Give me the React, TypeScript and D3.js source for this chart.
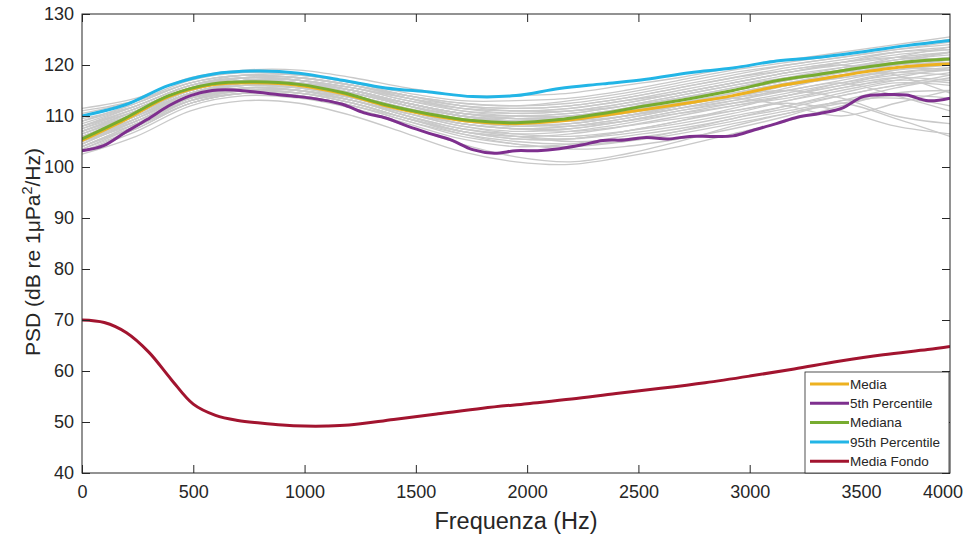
import { useEffect, useRef } from 'react'
import * as d3 from 'd3'

// frequency grids (Hz) the spectra were sampled on
const freqMain = d3.range(0, 3901, 195)
const freqFine = d3.range(0, 3901, 97.5)
const freqGray = d3.range(0, 3901, 243.75)
const freqFondo = [0, 100, 200, 300, 400, 500, 600, 700, 800, 900, 1000, 1100, 1200, 1400, 1600, 1800, 2000, 2200, 2400, 2600, 2800, 3000, 3200, 3400, 3600, 3800, 3900]

const media = [105.2, 109.3, 113.8, 116.1, 116.5, 116, 114.4, 112, 110.2, 108.9, 108.5, 109, 110.1, 111.3, 112.6, 114, 115.8, 117.2, 118.6, 119.7, 120.2]
const mediana = [105.5, 109.6, 114, 116.3, 116.7, 116.2, 114.6, 112.2, 110.4, 109.1, 108.7, 109.3, 110.5, 112, 113.4, 115, 116.9, 118.2, 119.5, 120.6, 121.2]
const p95 = [110, 112.2, 116, 118.2, 118.8, 118.4, 117, 115.5, 114.7, 113.8, 114, 115.4, 116.3, 117.2, 118.5, 119.4, 120.8, 121.5, 122.6, 123.8, 124.8]
const p5 = [
  103.2, 104.2, 106.8, 109.3, 112, 114, 115, 115.1, 114.7, 114.2, 113.8, 113.2, 112.3, 110.6, 109.6, 108, 106.6, 105.3, 103.4, 102.7,
  103.2, 103.2, 103.6, 104.3, 105.2, 105.3, 105.8, 105.5, 106, 106, 106.1, 107.3, 108.5, 109.8, 110.5, 111.5, 113.8, 114.2, 114.1, 113, 113.5,
]
const mediaFondo = [70, 69.5, 67.5, 63.7, 58.4, 53.5, 51.3, 50.3, 49.8, 49.4, 49.2, 49.2, 49.4, 50.5, 51.6, 52.7, 53.6, 54.5, 55.6, 56.6, 57.7, 59, 60.4, 61.9, 63.2, 64.2, 64.8]

// single recordings (grey)
const singles = [
  [107, 111, 115.5, 117.5, 117, 115.5, 113, 111.5, 111, 111.5, 113, 115, 117, 119, 120.5, 122, 123],
  [104, 108.5, 113.5, 115.5, 115, 113, 110, 107.5, 106.5, 107, 108.5, 110.5, 112.5, 114.5, 116.5, 118, 119],
  [109, 112.5, 116.5, 118, 117.5, 116, 114, 112.5, 112, 113, 114.5, 116.5, 118.5, 120, 121.5, 123, 124],
  [106, 110, 114.5, 116, 115.5, 113.5, 111, 108.5, 107.5, 108, 109.5, 111.5, 113.5, 116, 118, 119.5, 120],
  [103, 107, 112, 114, 113.5, 111.5, 108.5, 105.5, 104, 104.5, 106, 107.5, 109.5, 112, 114, 116, 117],
  [108, 111.5, 115.5, 117, 116.5, 115, 112.5, 110.5, 109.5, 110, 111.5, 113.5, 115.5, 117.5, 119.5, 121, 122],
  [105, 109.5, 114, 116.5, 116.5, 115, 112, 109.5, 109, 109.5, 111, 113, 115, 117, 118.5, 119.5, 119],
  [110.5, 113, 117, 118.5, 118, 116.5, 114.5, 113, 113, 113.5, 115, 117, 119, 120.5, 122, 123.5, 125],
  [102.5, 106, 111, 113, 112.5, 110, 106.5, 103, 101, 100.5, 102, 104, 106.5, 109, 112, 114.5, 115],
  [106.5, 110.5, 115, 117, 116.5, 114.5, 112, 110, 109, 109, 110.5, 112.5, 114.5, 116.5, 118, 119.5, 121],
  [104.5, 109, 113.5, 115.5, 115.5, 114, 111.5, 109, 108, 108.5, 110, 112, 114, 116, 117.5, 118.5, 118],
  [107.5, 111, 115.5, 117.5, 117.5, 116, 113.5, 111, 110, 110, 111, 112.5, 114.5, 116.5, 118.5, 120.5, 122.5],
  [105, 109, 113.5, 115, 114.5, 112.5, 109.5, 107, 105.5, 105.5, 107, 109, 111, 113, 115, 117, 118.5],
  [109.5, 112, 116, 117.5, 117, 115.5, 113.5, 111.5, 110.5, 111, 112.5, 114.5, 116.5, 118.5, 120, 121.5, 122.5],
  [103.5, 108, 113, 115.5, 115, 113, 110, 107, 106, 106.5, 108, 110, 112, 113.5, 115.5, 117.5, 119.5],
  [106, 110, 114.5, 116.5, 116, 114, 111, 108.5, 107.5, 107.5, 109, 111, 113, 115.5, 118, 120, 121],
  [108.5, 112, 116, 117.5, 117, 115, 112.5, 110.5, 110, 110.5, 112, 114, 116, 118, 119.5, 120.5, 121.5],
  [104, 108, 112.5, 114.5, 114, 112, 109.5, 107, 106, 105.5, 106.5, 108, 110, 112, 114.5, 116.5, 116],
  [107, 111, 115, 117, 116.5, 114.5, 112, 110, 109.5, 110, 111.5, 113.5, 115.5, 117.5, 119, 120.5, 121.5],
  [105.5, 109.5, 114, 116, 116, 114.5, 112, 110, 109, 109, 110, 111.5, 113, 115, 117, 119, 120.5],
  [111, 113, 116.5, 118, 117.5, 116, 114, 112.5, 112, 112.5, 114, 116, 118, 120, 121.5, 123, 124.5],
  [106, 110, 114, 115.5, 115, 113, 110, 107.5, 106, 105, 105.5, 107, 109, 111, 112.5, 109.5, 106],
  [104, 108.5, 113, 115, 115, 113.5, 111, 108.5, 107.5, 108, 109.5, 111.5, 113.5, 115, 116.5, 114, 111],
  [107, 110.5, 115, 117, 117, 115.5, 113, 111, 110.5, 111, 112.5, 114.5, 116.5, 118.5, 120, 118, 114.5],
  [105.5, 109, 113, 114.5, 114, 111.5, 108, 104.5, 102, 101, 102.5, 105, 108, 110.5, 113, 115.5, 117.5],
  [108, 111.5, 115.5, 117.5, 117.5, 116, 113.5, 111.5, 111, 111, 112, 113.5, 115, 117, 119, 121.5, 123.5],
  [106.5, 110, 114.5, 116, 115.5, 113.5, 110.5, 108, 107, 107.5, 109, 111, 112.5, 114, 116, 118.5, 119.5],
  [103, 107.5, 112.5, 114.5, 114, 112, 109, 106.5, 105, 104.5, 105, 106.5, 108.5, 110.5, 112.5, 114, 113.5],
  [109, 112, 116, 117.5, 117, 115, 112.5, 110.5, 109.5, 109.5, 111, 113, 115, 117, 119, 121, 122.5],
  [105, 109.5, 114.5, 116.5, 116, 114, 111.5, 109.5, 108.5, 108.5, 110, 112, 114, 116, 117.5, 119, 120],
  [111.5, 113.5, 117.5, 119, 119, 117.5, 115.5, 114, 114, 114.5, 116, 117.5, 119.5, 121, 122.5, 124, 125.5],
  [107.5, 111.5, 115.5, 117, 116.5, 114.5, 112, 110, 109, 109.5, 111, 112.5, 114, 115, 113.5, 110, 108.5],
  [106, 110, 114.5, 116.5, 116, 114.5, 112.5, 110.5, 109.5, 109.5, 110.5, 112, 113.5, 112, 110, 112.5, 115],
  [105, 108.5, 113, 115, 114.5, 112.5, 109.5, 106.5, 104.5, 104, 105, 107, 109.5, 111.5, 114, 116, 118],
  [108, 112, 116, 118, 118, 116.5, 114, 112, 111, 111.5, 113, 114.5, 116.5, 118.5, 120.5, 122.5, 123.5],
  [104.5, 109, 113.5, 115.5, 115, 113, 110.5, 108.5, 107.5, 107, 108, 109.5, 111, 112.5, 111, 108, 106.5],
  [106.5, 110.5, 115, 117, 116.5, 115, 112.5, 110.5, 110, 110.5, 112, 114, 116, 117.5, 119, 120, 120.5],
  [107, 110.5, 114.5, 116, 115.5, 113.5, 111, 109, 108, 108.5, 110, 112, 114, 116, 118, 120, 121.5],
  [103.5, 107.5, 112.5, 114.5, 114, 112, 109, 106, 104.5, 103.5, 104, 105.5, 107.5, 110, 113, 113.5, 112],
  [109, 112.5, 116.5, 118, 117.5, 116, 114, 112, 111.5, 112, 113.5, 115.5, 117.5, 119.5, 121, 122.5, 123],
  [105.5, 110, 114.5, 116.5, 116.5, 115, 112.5, 110, 108.5, 108, 109, 110.5, 112, 114, 116.5, 118.5, 119],
  [106, 109.5, 113.5, 115, 114.5, 112.5, 109.5, 107, 105.5, 105.5, 107, 109, 111.5, 114, 116, 117.5, 117],
  [108, 111, 115, 117, 117, 115.5, 113.5, 112, 111.5, 112, 113.5, 115.5, 117.5, 119, 120.5, 121.5, 121],
  [104, 108, 112.5, 114.5, 114.5, 113, 110.5, 108, 106.5, 106, 107, 108.5, 110.5, 113, 115.5, 117, 116.5],
]

const xTicks = [0, 500, 1000, 1500, 2000, 2500, 3000, 3500]
const xLastLabel = '4000'
const yTicks = [40, 50, 60, 70, 80, 90, 100, 110, 120, 130]

type Series = { label: string; color: string; freq: number[]; values: number[] }

const legendSeries: Series[] = [
  { label: 'Media', color: '#EDB120', freq: freqMain, values: media },
  { label: '5th Percentile', color: '#7E2F8E', freq: freqFine, values: p5 },
  { label: 'Mediana', color: '#77AC30', freq: freqMain, values: mediana },
  { label: '95th Percentile', color: '#22B5E6', freq: freqMain, values: p95 },
  { label: 'Media Fondo', color: '#A2142F', freq: freqFondo, values: mediaFondo },
]

function PsdChart() {
  const ref = useRef<SVGSVGElement | null>(null)

  useEffect(() => {
    const width = 969
    const height = 539
    const margin = { top: 14, right: 19, bottom: 66, left: 82 }
    const innerW = width - margin.left - margin.right
    const innerH = height - margin.top - margin.bottom
    const axisColor = '#262626'
    const font = "'Liberation Sans', Arial, Helvetica, sans-serif"

    const svg = d3.select(ref.current)
    svg.selectAll('*').remove()
    svg.attr('width', width).attr('height', height).style('font-family', font)
    svg.append('rect').attr('width', width).attr('height', height).attr('fill', '#fff')

    const x = d3.scaleLinear().domain([0, 3900]).range([0, innerW])
    const y = d3.scaleLinear().domain([40, 130]).range([innerH, 0])

    const g = svg.append('g').attr('transform', `translate(${margin.left},${margin.top})`)

    svg.append('defs').append('clipPath').attr('id', 'plotClip')
      .append('rect').attr('width', innerW).attr('height', innerH)

    const lineFor = (freq: number[]) =>
      d3.line<number>()
        .x((_, i) => x(freq[i]))
        .y((d) => y(d))
        .curve(d3.curveCatmullRom.alpha(0.5))

    const plot = g.append('g').attr('clip-path', 'url(#plotClip)')

    plot.selectAll('path.single')
      .data(singles)
      .join('path')
      .attr('class', 'single')
      .attr('d', (d) => lineFor(freqGray)(d))
      .attr('fill', 'none')
      .attr('stroke', '#c9c9c9')
      .attr('stroke-width', 1.3)

    plot.selectAll('path.main')
      .data(legendSeries)
      .join('path')
      .attr('class', 'main')
      .attr('d', (d) => lineFor(d.freq)(d.values))
      .attr('fill', 'none')
      .attr('stroke', (d) => d.color)
      .attr('stroke-width', 3)
      .attr('stroke-linejoin', 'round')

    // box
    g.append('rect')
      .attr('width', innerW)
      .attr('height', innerH)
      .attr('fill', 'none')
      .attr('stroke', axisColor)
      .attr('stroke-width', 1)

    const tickLen = 8
    const xAxis = d3.axisBottom(x).tickValues(xTicks).tickSize(-tickLen).tickPadding(12).tickFormat(d3.format('d'))
    const yAxis = d3.axisLeft(y).tickValues(yTicks).tickSize(-tickLen).tickPadding(8)

    const gx = g.append('g').attr('transform', `translate(0,${innerH})`).call(xAxis)
    const gy = g.append('g').call(yAxis)
    for (const ax of [gx, gy]) {
      ax.select('.domain').remove()
      ax.selectAll('line').attr('stroke', axisColor)
      ax.selectAll('text').attr('fill', axisColor).style('font-size', '18px').style('font-family', font)
    }
    // last frequency label sits at the right edge of the box
    gx.append('text')
      .attr('x', innerW - 7)
      .attr('y', 12)
      .attr('dy', '0.71em')
      .attr('text-anchor', 'middle')
      .attr('fill', axisColor)
      .style('font-size', '18px')
      .text(xLastLabel)

    // mirrored ticks on top and right
    g.append('g').call(d3.axisTop(x).tickValues(xTicks).tickSize(-tickLen).tickFormat(() => ''))
      .call((s) => s.select('.domain').remove())
      .selectAll('line').attr('stroke', axisColor)
    g.append('g').attr('transform', `translate(${innerW},0)`)
      .call(d3.axisRight(y).tickValues(yTicks).tickSize(-tickLen).tickFormat(() => ''))
      .call((s) => s.select('.domain').remove())
      .selectAll('line').attr('stroke', axisColor)

    // axis titles
    svg.append('text')
      .attr('x', margin.left + innerW / 2)
      .attr('y', 529)
      .attr('text-anchor', 'middle')
      .attr('fill', axisColor)
      .style('font-size', '23.5px')
      .text('Frequenza (Hz)')

    const yl = svg.append('text')
      .attr('transform', 'translate(40,252) rotate(-90)')
      .attr('text-anchor', 'middle')
      .attr('fill', axisColor)
      .style('font-size', '21px')
    yl.append('tspan').text('PSD (dB re 1μPa')
    yl.append('tspan').attr('dy', -8).style('font-size', '14.5px').text('2')
    yl.append('tspan').attr('dy', 8).text('/Hz)')

    // legend
    const lg = svg.append('g').attr('transform', 'translate(805,372)')
    lg.append('rect')
      .attr('width', 144)
      .attr('height', 101)
      .attr('fill', '#fff')
      .attr('stroke', axisColor)
      .attr('stroke-width', 0.8)
    const item = lg.selectAll('g.item')
      .data(legendSeries)
      .join('g')
      .attr('class', 'item')
      .attr('transform', (_, i) => `translate(0,${12 + i * 19.3})`)
    item.append('line')
      .attr('x1', 5).attr('x2', 44)
      .attr('stroke', (d) => d.color)
      .attr('stroke-width', 3)
    item.append('text')
      .attr('x', 45)
      .attr('dy', '0.35em')
      .attr('fill', axisColor)
      .style('font-size', '13.5px')
      .text((d) => d.label)
  }, [])

  return <svg ref={ref} style={{ position: 'absolute', left: 0, top: 0, display: 'block' }} />
}

export default function App() {
  return <PsdChart />
}
